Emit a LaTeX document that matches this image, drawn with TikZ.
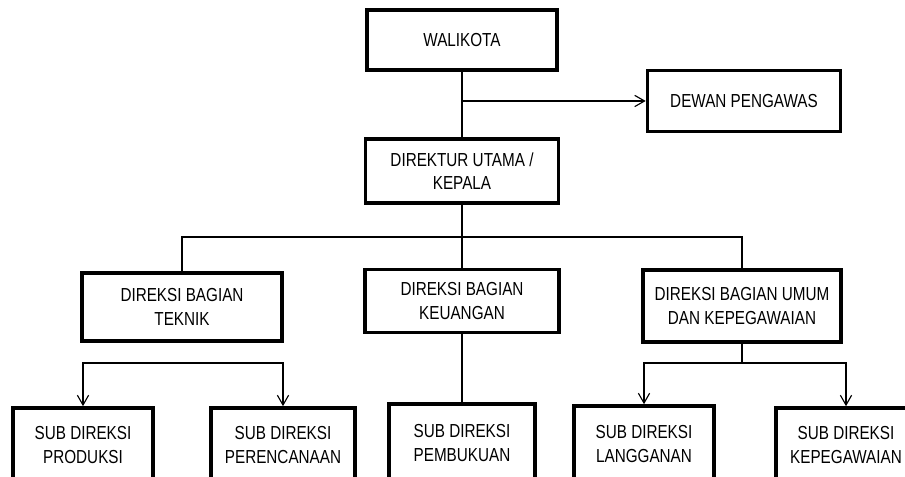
\documentclass[tikz,border=0pt]{standalone}
\usepackage{fontspec}
\setmainfont{Liberation Sans}[FakeStretch=0.81]
\usetikzlibrary{arrows.meta}

\tikzset{
  unit/.style={draw, line width=2.6pt, align=center, inner sep=0pt,
    font=\fontsize{13.4}{16.8}\selectfont},
  size/.style 2 args={minimum width=#1*0.025cm, minimum height=#2*0.025cm},
  link/.style={line width=0.8pt},
  tip/.style={link, -{Straight Barb[length=7pt,width=8pt,line width=0.8pt]}},
}

\begin{document}
\begin{tikzpicture}[x=0.025cm, y=-0.025cm]
\clip (0,0) rectangle (905,477);
\fill[white] (0,0) rectangle (905,477);

% top
\node[unit, size={190}{60}] (wali) at (462,40) {WALIKOTA};
\node[unit, size={193}{61}] (dewan) at (744,101) {DEWAN PENGAWAS};
\node[unit, size={193}{64}] (direktur) at (462,171) {DIREKTUR UTAMA /\\KEPALA};

% direksi
\node[unit, size={200}{68}] (teknik) at (182,307) {DIREKSI BAGIAN\\TEKNIK};
\node[unit, size={194}{63}] (keuangan) at (462,301) {DIREKSI BAGIAN\\KEUANGAN};
\node[unit, size={198}{72}] (umum) at (742,306) {DIREKSI BAGIAN UMUM\\DAN KEPEGAWAIAN};

% sub direksi
\node[unit, size={140}{74}] (produksi) at (83,445) {SUB DIREKSI\\PRODUKSI};
\node[unit, size={144}{74}] (perencanaan) at (283,445) {SUB DIREKSI\\PERENCANAAN};
\node[unit, size={146}{78}] (pembukuan) at (462,443) {SUB DIREKSI\\PEMBUKUAN};
\node[unit, size={140}{76}] (langganan) at (644,444) {SUB DIREKSI\\LANGGANAN};
\node[unit, size={140}{74}] (kepegawaian) at (846,445) {SUB DIREKSI\\KEPEGAWAIAN};

\coordinate (bagi) at (462,237);
\coordinate (tk) at (183,363);
\coordinate (um) at (742,363);

\draw[link] (wali) -- (direktur);
\draw[tip] (wali.south |- dewan.west) -- (dewan.west);
\draw[link] (direktur) -- (keuangan);
\draw[link] (teknik.north) |- (bagi) -| (umum.north);
\draw[link] (keuangan) -- (pembukuan);
\draw[tip] (tk) -| (produksi.north);
\draw[tip] (tk) -| (perencanaan.north);
\draw[link] (umum) -- (um);
\draw[tip] (um) -| (langganan.north);
\draw[tip] (um) -| (kepegawaian.north);
\end{tikzpicture}
\end{document}
